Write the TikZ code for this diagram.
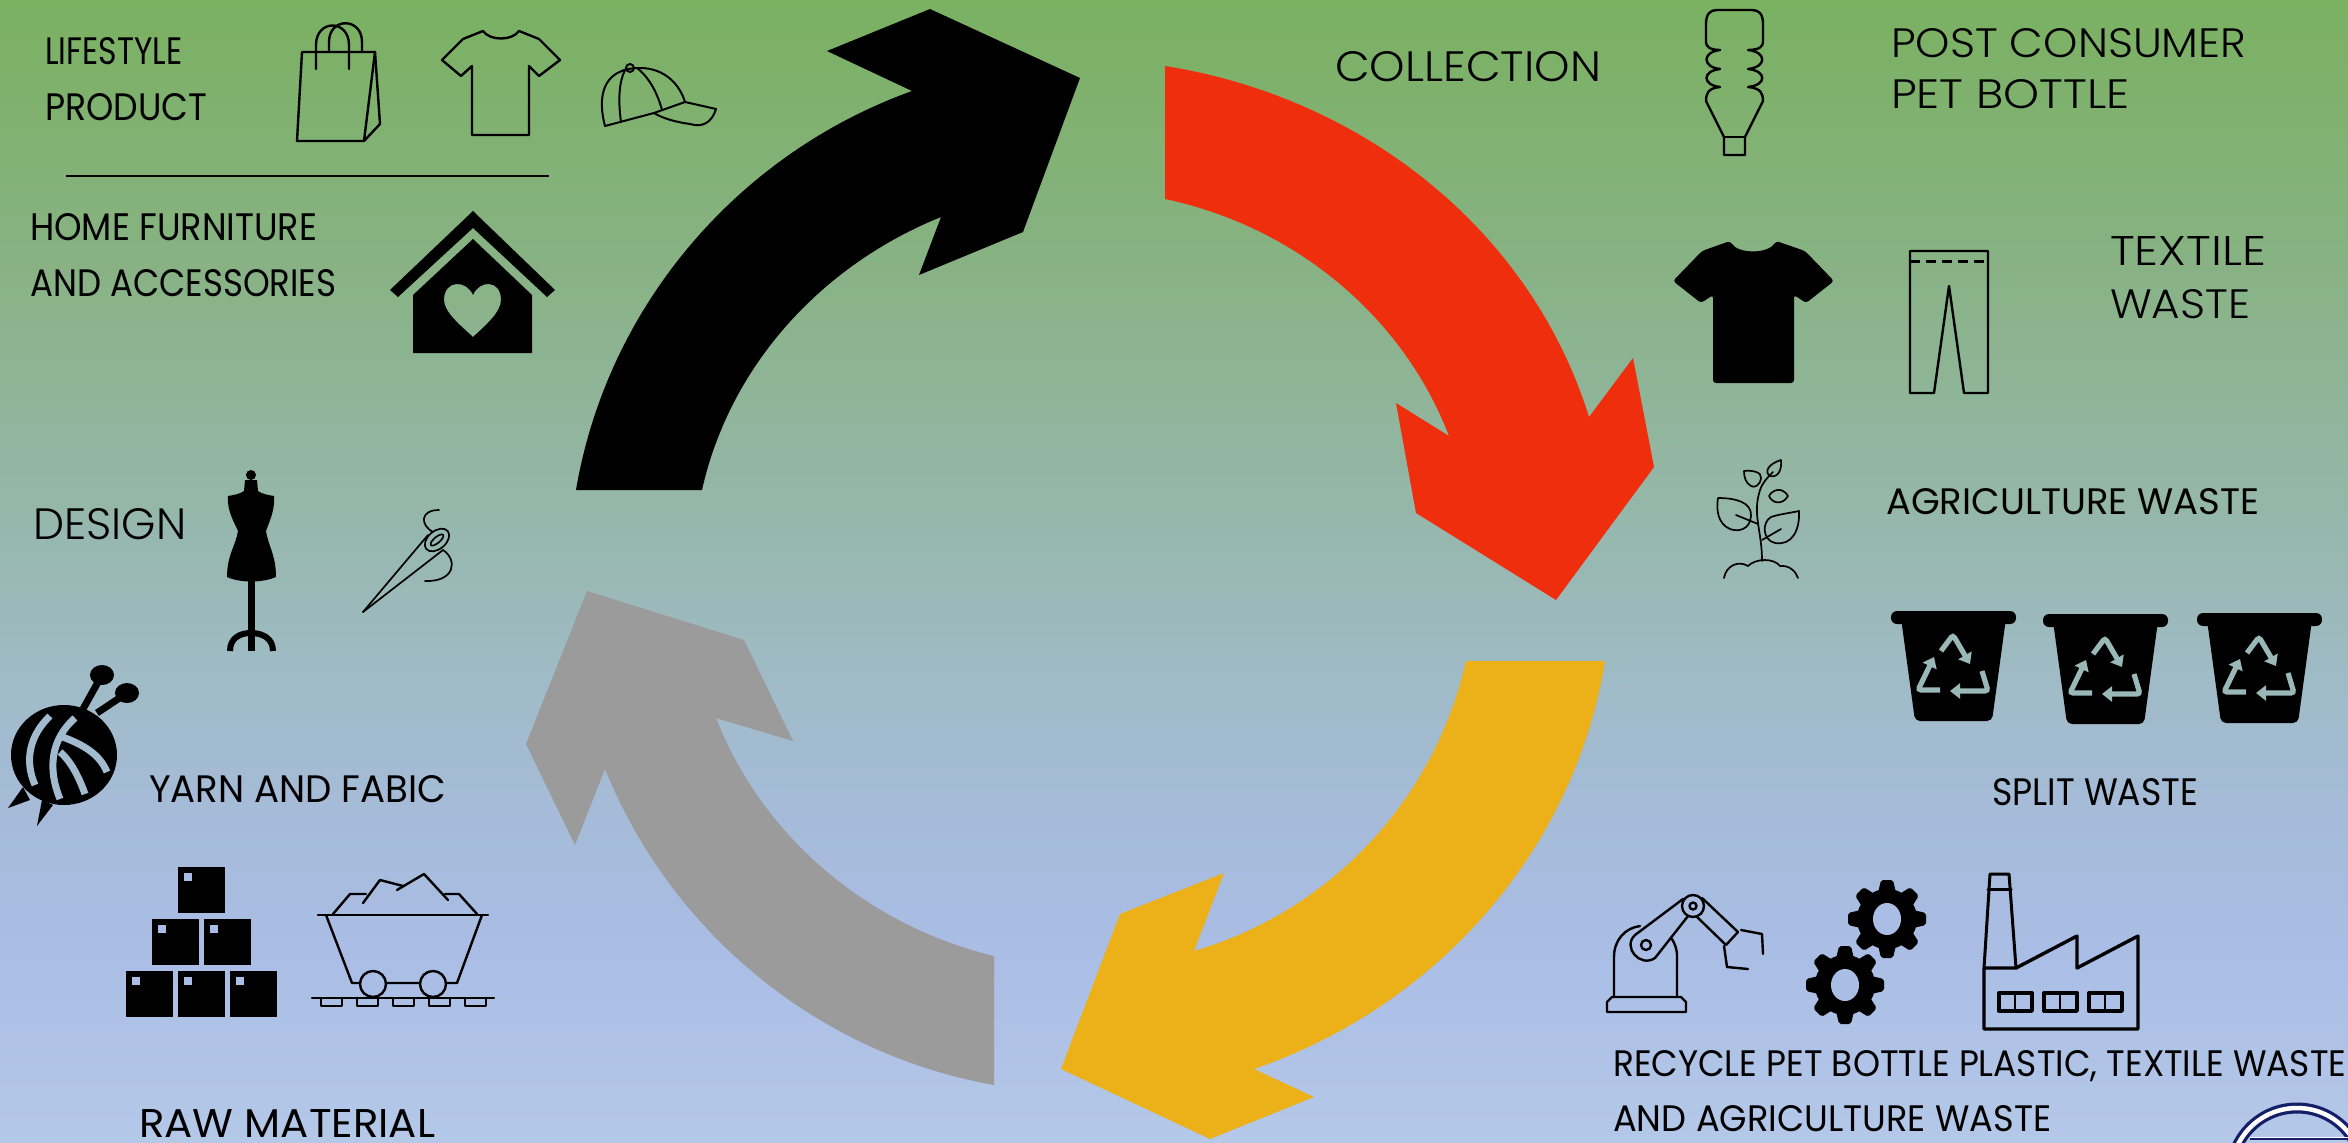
\documentclass[tikz,border=0pt]{standalone}
\usepackage{graphicx}
\usepackage{xcolor}
\usepackage{fontspec}
\setmainfont{Poppins}
\newfontfamily\lightfont{Poppins Light}
\usepackage{tikz}
\usetikzlibrary{arrows.meta,calc}

\definecolor{cyclered}{RGB}{238,46,12}
\definecolor{cycleyellow}{RGB}{236,176,24}
\definecolor{cyclegray}{RGB}{155,155,155}
\definecolor{holeblue}{RGB}{170,189,228}
\definecolor{yarnblue}{RGB}{162,187,207}
\definecolor{binblue}{RGB}{155,184,184}
\definecolor{logonavy}{RGB}{20,30,105}
\definecolor{bgbottom}{RGB}{180,200,232}
\definecolor{bgblue}{RGB}{170,189,229}
\definecolor{bgsky}{RGB}{165,187,215}
\definecolor{bgpale}{RGB}{160,187,200}
\definecolor{bgteal}{RGB}{152,184,178}
\definecolor{bgsage}{RGB}{135,178,130}
\definecolor{bgtop}{RGB}{122,177,97}

\pgfdeclareverticalshading{bgshade}{100bp}{
	color(0bp)=(bgbottom);
	color(25bp)=(bgbottom);
	color(33.4bp)=(bgblue);
	color(40bp)=(bgsky);
	color(44.8bp)=(bgpale);
	color(50.5bp)=(bgteal);
	color(64bp)=(bgsage);
	color(75bp)=(bgtop);
	color(100bp)=(bgtop)}

% caps stretched to the measured width and height
\newcommand{\caps}[3]{\resizebox{#1pt}{#2pt}{#3}}

\begin{document}
\begin{tikzpicture}[x=1pt, y=-1pt,
		textlabel/.style = {anchor=base west, inner sep=0pt, text=black},
		icon/.style = {draw=black, line width=2.4pt, line join=round, line cap=round},
		thinicon/.style = {draw=black, line width=1.7pt, line join=round, line cap=round},
		blackfill/.style = {fill=black, draw=none},
		recyclearrow/.style = {draw=binblue, line width=5.2pt, rounded corners=3pt,
				-{Triangle[width=15pt,length=10pt]}},
		yarnstripe/.style = {draw=yarnblue, line width=7pt}
	]

	% Background
	\clip (0,0) rectangle (2348,1143);
	\shade[shading=bgshade] (0,0) rectangle (2348,1143);

	% Arrows
	\fill[black] (576,490) .. controls (607,307) and (737,154) .. (912,91)
	-- (827,51) -- (930,9) -- (1080,78) -- (1023,232) -- (919,275) -- (941,217)
	.. controls (822,265) and (730,365) .. (702,490) -- cycle;
	\fill[cyclered] (1165,66) .. controls (1361,97) and (1530,228) .. (1589,417)
	-- (1633,358) -- (1654,467) -- (1556,600) -- (1416,513) -- (1396,403) -- (1449,436)
	.. controls (1402,314) and (1293,226) .. (1165,199) -- cycle;
	\fill[cycleyellow] (1605,661) .. controls (1574,851) and (1437,1006) .. (1254,1069)
	-- (1314,1097) -- (1210,1139) -- (1061,1069) -- (1120,914) -- (1224,873) -- (1194,951)
	.. controls (1331,911) and (1435,799) .. (1466,661) -- cycle;
	\fill[cyclegray] (994,1085) .. controls (819,1054) and (672,934) .. (605,769)
	-- (575,845) -- (526,744) -- (587,591) -- (744,640) -- (793,741) -- (716,718)
	.. controls (763,838) and (869,926) .. (994,956) -- cycle;

	% Nodes
	\node[textlabel] (lifestyle) at (45,64) {\caps{137}{27}{LIFESTYLE}};
	\node[textlabel] (product) at (45,120) {\caps{162}{27}{PRODUCT}};
	\node[textlabel] (home) at (30,240) {\caps{287}{27}{HOME FURNITURE}};
	\node[textlabel] (accessories) at (30,296) {\caps{306}{27}{AND ACCESSORIES}};
	\node[textlabel] (design) at (33,539) {\caps{153}{31}{\lightfont DESIGN}};
	\node[textlabel] (yarn) at (149,802) {\caps{297}{27}{YARN AND FABIC}};
	\node[textlabel] (raw) at (139,1137) {\caps{296}{28}{RAW MATERIAL}};
	\node[textlabel] (collection) at (1335,81) {\caps{266}{30}{\lightfont COLLECTION}};
	\node[textlabel] (post) at (1891,57) {\caps{355}{29}{\lightfont POST CONSUMER}};
	\node[textlabel] (pet) at (1891,108) {\caps{238}{29}{\lightfont PET BOTTLE}};
	\node[textlabel] (textile) at (2110,265) {\caps{156}{29}{\lightfont TEXTILE}};
	\node[textlabel] (waste) at (2110,318) {\caps{140}{29}{\lightfont WASTE}};
	\node[textlabel] (agriculture) at (1886,514) {\caps{373}{26}{AGRICULTURE WASTE}};
	\node[textlabel] (split) at (1992,805) {\caps{206}{27}{SPLIT WASTE}};
	\node[textlabel] (recycle) at (1613,1076) {\caps{733}{26}{RECYCLE PET BOTTLE PLASTIC, TEXTILE WASTE}};
	\node[textlabel] (agrirecycle) at (1613,1131) {\caps{438}{26}{AND AGRICULTURE WASTE}};

	% Divider
	\coordinate (divleft) at (66,176);
	\coordinate (divright) at (549,176);
	\draw[black, line width=1.5pt] (divleft) -- (divright);

	% Bag
	\draw[icon] (302,52) -- (375,52) -- (364,141) -- (297,141) -- cycle;
	\draw[icon] (375,52) -- (380,124) -- (364,141);
	\draw[icon] (316,69) -- (316,45) .. controls (316,19) and (349,19) .. (349,45) -- (349,69);
	\draw[icon] (329,52) -- (329,42) .. controls (329,17) and (362,17) .. (362,42) -- (362,52);

	% Shirt
	\draw[icon] (483,31) .. controls (490,41) and (512,41) .. (519,31) -- (539,39) -- (560,60)
	-- (539,76) -- (529,66) -- (529,135) -- (472,135) -- (472,66) -- (461,76) -- (442,60)
	-- (463,39) -- cycle;

	% Cap
	\draw[thinicon, line width=2pt] (605,126) .. controls (598,100) and (600,68) .. (640,68)
	.. controls (665,68) and (680,85) .. (685,102) -- (716,109)
	.. controls (712,122) and (703,128) .. (690,124) .. controls (675,122) and (662,118) .. (654,113);
	\draw[thinicon, line width=2pt] (605,126) -- (654,113) -- (685,102);
	\draw[thinicon, line width=2pt] (621,122) .. controls (618,100) and (619,82) .. (625,70);
	\draw[thinicon, line width=2pt] (662,110) .. controls (658,95) and (650,78) .. (637,68);
	\draw[thinicon, line width=2pt] (630,68) circle (4);

	% House
	\fill[blackfill] (473,211) -- (555,290) -- (547,297) -- (473,228) -- (398,297) -- (390,290) -- cycle;
	\fill[blackfill, even odd rule] (473,239) -- (532,295) -- (532,353) -- (413,353) -- (413,295) -- cycle
	(473,295) .. controls (467,280) and (444,279) .. (444,300) .. controls (444,312) and (460,325) .. (473,337)
	.. controls (486,325) and (501,312) .. (501,300) .. controls (501,279) and (479,280) .. (473,295) -- cycle;

	% Mannequin
	\fill[blackfill] (251,475) circle (5);
	\fill[blackfill] (245,480) -- (257,480) -- (258,491) .. controls (262,494) and (268,495) .. (274,496)
	.. controls (275,510) and (270,520) .. (266,531) .. controls (268,545) and (276,555) .. (276,577)
	.. controls (262,583) and (240,583) .. (227,577) .. controls (227,555) and (236,545) .. (238,531)
	.. controls (233,520) and (227,510) .. (228,496) .. controls (234,495) and (240,494) .. (244,491) -- cycle;
	\fill[blackfill] (248,580) rectangle (255,651);
	\draw[black, line width=6pt] (230,651) .. controls (230,638) and (240,633) .. (251,633)
	.. controls (262,633) and (273,638) .. (273,651);

	% Needle
	\draw[thinicon] (363,612) -- (428,535);
	\draw[thinicon] (363,612) -- (443,550);
	\draw[thinicon, rotate around={40:(437,540)}] (437,540) ellipse (14 and 9);
	\draw[thinicon, rotate around={40:(437,540)}] (437,540) ellipse (8 and 3);
	\draw[thinicon] (439,510) .. controls (420,510) and (420,525) .. (433,532);
	\draw[thinicon] (443,550) .. controls (458,560) and (455,582) .. (425,581);

	% Yarn
	\draw[black, line width=7pt] (83,709) -- (102,675);
	\draw[black, line width=7pt] (97,713) -- (127,693);
	\fill[blackfill] (102,675) ellipse (12 and 10);
	\fill[blackfill] (127,693) ellipse (12 and 10);
	\fill[blackfill] (23,787) -- (8,808) -- (30,800) -- cycle;
	\fill[blackfill] (42,800) -- (37,826) -- (53,805) -- cycle;
	\fill[blackfill] (64,755) ellipse (53 and 50);
	\draw[yarnstripe] (50,716) .. controls (30,735) and (24,760) .. (35,785);
	\draw[yarnstripe] (75,718) .. controls (50,740) and (48,770) .. (60,799);
	\draw[yarnstripe] (60,736) .. controls (85,745) and (100,755) .. (107,772);
	\draw[yarnstripe] (60,752) .. controls (72,762) and (80,780) .. (85,794);

	% Boxes
	\foreach \boxx/\boxy in {178/867, 152/919, 204/919, 126/971, 178/971, 230/971} {
			\fill[blackfill] (\boxx,\boxy) rectangle ++(47,46);
			\fill[holeblue] (\boxx+6,\boxy+6) rectangle ++(8,8);
		}

	% Cart
	\draw[icon] (318,915) -- (488,915);
	\draw[icon] (326,915) -- (352,983) -- (457,983) -- (482,915);
	\draw[icon] (333,914) -- (350,894) -- (366,894);
	\draw[icon] (363,903) -- (380,880) -- (403,886);
	\draw[icon] (397,890) -- (424,874) -- (448,900);
	\draw[icon] (445,894) -- (459,894) -- (477,914);
	\draw[icon] (312,998) -- (494,998);
	\foreach \tiex in {321,357,393,429,465} {
			\draw[icon] (\tiex,998) -- (\tiex,1006) -- (\tiex+21,1006) -- (\tiex+21,998);
		}
	\foreach \wheelx in {373,433} {
			\draw[icon, fill=holeblue] (\wheelx,984) circle (13);
		}

	% Bottle
	\draw[icon] (1706,24) .. controls (1706,14) and (1710,10) .. (1717,10) -- (1752,10)
	.. controls (1759,10) and (1763,14) .. (1763,24) -- (1763,42)
	.. controls (1763,46) and (1760,50) .. (1748,50) .. controls (1767,52) and (1767,67) .. (1748,69)
	.. controls (1767,71) and (1767,85) .. (1748,87) .. controls (1762,88) and (1763,95) .. (1763,101)
	-- (1745,137) -- (1745,155) -- (1724,155) -- (1724,137) -- (1706,101)
	.. controls (1706,95) and (1707,88) .. (1720,87) .. controls (1702,85) and (1702,71) .. (1720,69)
	.. controls (1702,67) and (1702,52) .. (1720,50) .. controls (1709,50) and (1706,46) .. (1706,42) -- cycle;
	\draw[icon] (1724,137) -- (1745,137);

	% Black shirt
	\fill[blackfill, rounded corners=3pt] (1730,241) .. controls (1738,254) and (1768,254) .. (1776,241)
	-- (1805,251) -- (1834,281) -- (1806,303) -- (1794,295) -- (1794,383) -- (1713,383) -- (1713,295)
	-- (1701,303) -- (1673,281) -- (1702,251) -- cycle;

	% Pants
	\draw[icon] (1910,251) -- (1988,251) -- (1988,393) -- (1964,393) -- (1949,286) -- (1934,393) -- (1910,393) -- cycle;
	\draw[icon, line width=3pt, line cap=butt, dash pattern=on 10pt off 6pt] (1910,261) -- (1988,261);

	% Plant
	\draw[thinicon] (1762,561) .. controls (1762,530) and (1752,515) .. (1760,490) .. controls (1763,482) and (1767,478) .. (1773,472);
	\draw[thinicon] (1724,578) .. controls (1726,566) and (1738,560) .. (1748,566)
	.. controls (1756,558) and (1774,558) .. (1780,566) .. controls (1790,565) and (1796,572) .. (1798,578);
	\draw[thinicon] (1718,498) .. controls (1735,498) and (1752,502) .. (1751,516)
	.. controls (1750,530) and (1738,532) .. (1730,529) .. controls (1718,524) and (1716,510) .. (1718,498) -- cycle;
	\draw[thinicon] (1736,515) -- (1758,524);
	\draw[thinicon] (1799,511) .. controls (1800,530) and (1792,546) .. (1775,543)
	.. controls (1762,540) and (1762,522) .. (1771,517) .. controls (1780,514) and (1790,513) .. (1799,511) -- cycle;
	\draw[thinicon] (1762,540) -- (1781,529);
	\draw[thinicon] (1744,471) .. controls (1752,470) and (1762,472) .. (1761,478) .. controls (1760,486) and (1754,488) .. (1751,486)
	.. controls (1746,483) and (1744,478) .. (1744,471) -- cycle;
	\draw[thinicon] (1781,460) .. controls (1782,470) and (1778,478) .. (1770,476) .. controls (1764,472) and (1768,464) .. (1781,460) -- cycle;
	\draw[thinicon] (1788,496) .. controls (1782,486) and (1772,490) .. (1769,496) .. controls (1772,503) and (1782,506) .. (1788,496) -- cycle;

	% Bins
	\foreach \binx/\biny in {0/0, 152/3, 306/2} {
			\begin{scope}[shift={(\binx,\biny)}]
				\fill[blackfill, rounded corners=6pt] (1891,611) rectangle (2016,624);
				\fill[blackfill, rounded corners=5pt] (1901,618) -- (2006,618) -- (1992,721) -- (1915,721) -- cycle;
				\draw[recyclearrow] (1941,651) -- (1953,635) -- (1970,664);
				\draw[recyclearrow] (1982,671) -- (1988,691) -- (1950,691);
				\draw[recyclearrow] (1940,690) -- (1918,690) -- (1934,657);
			\end{scope}
		}

	% Robot
	\draw[icon] (1607,1012) -- (1607,1002) -- (1612,997) -- (1681,997) -- (1686,1002) -- (1686,1012) -- cycle;
	\draw[icon] (1614,997) -- (1614,957) .. controls (1614,940) and (1625,928) .. (1640,926);
	\draw[icon] (1677,997) -- (1677,955) .. controls (1677,950) and (1675,944) .. (1672,939);
	\draw[icon] (1635,935) -- (1683,899);
	\draw[icon] (1655,958) -- (1688,916);
	\draw[icon] (1635,935) .. controls (1622,947) and (1640,968) .. (1655,958);
	\draw[icon] (1646,945) circle (5);
	\draw[icon] (1693,906) circle (11);
	\draw[icon] (1693,906) circle (3.5);
	\draw[icon] (1702,898) -- (1738,932) -- (1726,945) -- (1697,917);
	\draw[icon] (1741,930) -- (1762,934) -- (1763,954);
	\draw[icon] (1724,946) -- (1727,967) -- (1748,969);

	% Gears
	\foreach \gearx/\geary in {1887/919, 1845/985} {
			\fill[blackfill] (\gearx,\geary) circle (30);
			\foreach \gearangle in {0,45,...,315} {
					\fill[blackfill, rotate around={\gearangle:(\gearx,\geary)}, rounded corners=2pt]
					(\gearx-9,\geary-26) -- (\gearx-6,\geary-39) -- (\gearx+6,\geary-39) -- (\gearx+9,\geary-26) -- cycle;
				}
			\fill[holeblue] (\gearx,\geary) ellipse (14 and 16);
		}

	% Factory
	\draw[icon, line width=3.4pt] (1984,1029) -- (2138,1029) -- (2138,936) -- (2077,968) -- (2077,936) -- (2016,968) -- (1984,968) -- cycle;
	\draw[icon, line width=3pt] (1984,968) -- (1990,874) -- (2009,874) -- (2016,968);
	\draw[icon, line width=3pt] (1988,889) -- (2011,889);
	\foreach \winx in {1999,2044,2089} {
			\draw[icon, line width=3.4pt] (\winx,993) rectangle ++(33,18);
			\draw[icon, line width=2.5pt] (\winx+16,993) -- (\winx+16,1011);
		}

	% Logo
	\draw[logonavy, line width=11pt] (2297,1174) circle (66);
	\draw[white, line width=4.5pt] (2297,1174) circle (66);
	\draw[logonavy, line width=2pt] (2250,1139) -- (2348,1139);
	\draw[white, line width=1pt] (2250,1137.5) -- (2348,1137.5);
\end{tikzpicture}
\end{document}
